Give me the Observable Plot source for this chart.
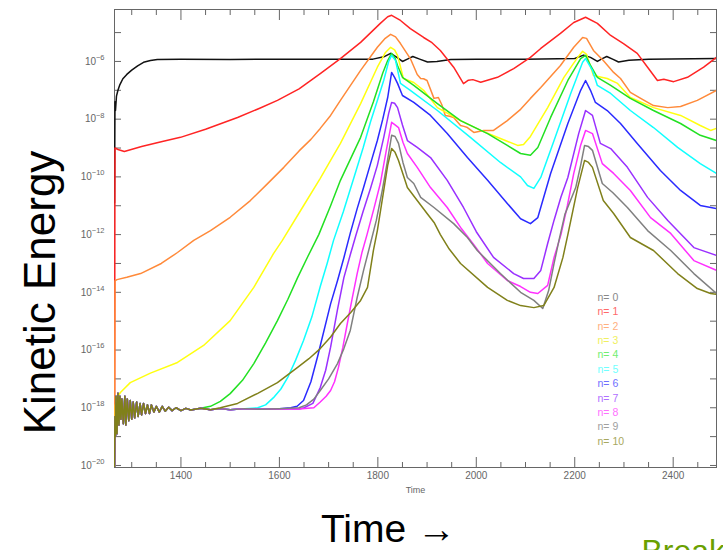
<!DOCTYPE html>
<html><head><meta charset="utf-8">
<script src="https://cdn.jsdelivr.net/npm/d3@7"></script>
<script src="https://cdn.jsdelivr.net/npm/@observablehq/plot@0.6"></script>
<style>body{margin:0;background:#fff;overflow:hidden} #chart svg{display:block}</style>
</head><body><div id="chart"></div>
<script>
// Mode labels and colours
const modeLabels = ["n= 0","n= 1","n= 2","n= 3","n= 4","n= 5","n= 6","n= 7","n= 8","n= 9","n= 10"];
const modeColors = ["#111111","#ff2424","#ff8a3a","#ffff10","#22e022","#10ffff","#2a2aff","#9a30ff","#ff30ff","#808080","#80801a"];
const legendColors = ["#888888","#ff6a6a","#ffb080","#f0f060","#70ee70","#70ffff","#7070ff","#b070ff","#ff70ff","#a0a0a0","#a8a860"];

// [time, log10(kinetic energy)]
const floorNoise = [[1265,-20.07],[1266,-18.3],[1267,-19.0],[1268,-17.6],[1270,-18.9],[1272,-17.5],[1274,-18.6],[1276,-17.6],[1278,-18.4],[1280,-17.7],[1283,-18.55],[1286,-17.6],[1288,-18.6],[1291,-17.7],[1294,-18.45],[1297,-17.75],[1300,-18.4],[1303,-17.8],[1306,-18.35],[1310,-17.8],[1313,-18.3],[1317,-17.85],[1320,-18.25],[1324,-17.85],[1328,-18.2],[1332,-17.9],[1336,-18.2],[1340,-17.9],[1345,-18.15],[1350,-17.95],[1356,-18.15],[1362,-17.95],[1368,-18.12],[1375,-17.98],[1382,-18.1],[1390,-18.0],[1400,-18.1],[1410,-18.02],[1420,-18.08],[1440,-18.02],[1460,-18.07],[1480,-18.03],[1500,-18.07],[1530,-18.03],[1560,-18.05],[1600,-18.03],[1640,-18.04],[1680,-18.02]];

const n0 = [[1265,-10.9],[1266,-7.4],[1267,-7.7],[1269,-7.2],[1272,-7.0],[1276,-6.8],[1282,-6.6],[1290,-6.45],[1300,-6.3],[1312,-6.15],[1324,-6.03],[1338,-5.97],[1352,-5.93],[1400,-5.92],[1500,-5.93],[1600,-5.92],[1700,-5.92],[1790,-5.92],[1812,-5.84],[1826,-5.72],[1838,-5.85],[1850,-6.0],[1860,-5.92],[1871,-5.83],[1885,-5.92],[1901,-6.02],[1920,-6.0],[1948,-5.93],[2000,-5.92],[2100,-5.92],[2200,-5.9],[2218,-5.78],[2232,-5.86],[2246,-6.0],[2256,-5.9],[2265,-5.83],[2278,-5.93],[2289,-6.02],[2310,-5.96],[2350,-5.92],[2488,-5.9]];
const n1 = [[1265,-20.07],[1266,-9.0],[1272,-9.05],[1285,-9.12],[1320,-8.95],[1360,-8.78],[1399,-8.63],[1450,-8.35],[1515,-7.94],[1560,-7.62],[1596,-7.35],[1640,-6.95],[1683,-6.42],[1724,-5.9],[1765,-5.34],[1805,-4.68],[1820,-4.45],[1828,-4.4],[1846,-4.58],[1866,-4.86],[1893,-5.17],[1910,-5.35],[1927,-5.62],[1954,-6.2],[1974,-6.77],[1984,-6.65],[1993,-6.63],[2009,-6.72],[2043,-6.55],[2076,-6.25],[2110,-5.86],[2131,-5.55],[2171,-5.03],[2198,-4.65],[2222,-4.47],[2246,-4.68],[2273,-5.1],[2299,-5.38],[2327,-5.72],[2348,-6.2],[2368,-6.66],[2381,-6.62],[2401,-6.7],[2429,-6.55],[2462,-6.2],[2488,-5.86]];
const n2 = [[1265,-20.07],[1266,-13.6],[1270,-13.56],[1290,-13.48],[1318,-13.35],[1360,-13.0],[1393,-12.62],[1426,-12.2],[1460,-11.86],[1500,-11.4],[1541,-10.82],[1575,-10.25],[1609,-9.67],[1640,-9.1],[1664,-8.7],[1683,-8.32],[1704,-7.87],[1724,-7.35],[1765,-6.31],[1799,-5.51],[1815,-5.2],[1826,-5.06],[1836,-5.15],[1846,-5.38],[1866,-5.9],[1880,-6.45],[1887,-6.59],[1893,-6.6],[1900,-6.66],[1914,-7.28],[1923,-7.25],[1930,-7.5],[1937,-7.87],[1946,-7.9],[1954,-7.94],[1968,-8.22],[1975,-8.25],[1982,-8.29],[1995,-8.46],[2015,-8.39],[2035,-8.39],[2063,-8.05],[2090,-7.66],[2110,-7.28],[2131,-6.9],[2171,-6.14],[2198,-5.51],[2216,-5.17],[2224,-5.2],[2238,-5.62],[2258,-5.97],[2279,-6.38],[2293,-6.59],[2313,-7.07],[2334,-7.28],[2360,-7.53],[2389,-7.6],[2415,-7.56],[2449,-7.35],[2488,-7.0]];
const n3 = [[1265,-20.07],[1267,-17.9],[1272,-17.6],[1277,-17.47],[1297,-17.13],[1338,-16.8],[1393,-16.43],[1446,-15.84],[1500,-14.98],[1548,-13.83],[1588,-12.66],[1606,-12.2],[1649,-11.0],[1683,-10.05],[1704,-9.43],[1724,-8.84],[1765,-7.46],[1799,-6.2],[1815,-5.7],[1826,-5.51],[1834,-5.6],[1840,-5.79],[1852,-6.59],[1873,-6.73],[1893,-7.0],[1921,-7.6],[1968,-8.05],[2009,-8.39],[2049,-8.67],[2084,-8.91],[2096,-8.88],[2110,-8.6],[2145,-7.6],[2178,-6.55],[2206,-5.86],[2216,-5.65],[2224,-5.75],[2238,-6.49],[2266,-6.59],[2287,-6.76],[2313,-7.25],[2360,-7.6],[2415,-7.87],[2455,-8.22],[2476,-8.39],[2488,-8.32]];
const n4 = [[1460,-17.95],[1480,-17.78],[1500,-17.51],[1525,-17.05],[1548,-16.47],[1572,-15.75],[1596,-14.98],[1617,-14.25],[1637,-13.49],[1658,-12.75],[1680,-12.0],[1704,-11.0],[1724,-10.12],[1765,-8.63],[1791,-7.4],[1810,-6.4],[1820,-5.97],[1828,-5.72],[1834,-5.85],[1840,-6.14],[1850,-6.55],[1873,-6.83],[1921,-7.46],[1968,-8.05],[2023,-8.5],[2063,-8.91],[2090,-9.19],[2110,-9.25],[2125,-8.98],[2151,-7.94],[2186,-6.66],[2212,-5.9],[2222,-5.79],[2232,-6.14],[2246,-6.55],[2273,-6.83],[2313,-7.28],[2360,-7.7],[2415,-8.15],[2455,-8.56],[2488,-8.74]];
const n5 = [[1556,-18.0],[1572,-17.9],[1588,-17.65],[1603,-17.35],[1617,-16.95],[1633,-16.35],[1649,-15.67],[1666,-14.85],[1683,-13.8],[1697,-13.0],[1710,-12.2],[1730,-11.2],[1751,-10.05],[1770,-9.0],[1785,-8.1],[1800,-7.3],[1812,-6.65],[1822,-6.0],[1828,-5.79],[1836,-5.97],[1846,-6.76],[1866,-7.0],[1921,-7.7],[1988,-8.63],[2049,-9.5],[2090,-10.0],[2104,-10.3],[2117,-10.4],[2131,-10.02],[2158,-8.74],[2192,-7.1],[2216,-6.03],[2222,-5.9],[2236,-6.31],[2246,-6.83],[2273,-7.11],[2313,-7.7],[2360,-8.29],[2409,-8.98],[2455,-9.54],[2488,-9.88]];
const n6 = [[1623,-18.0],[1636,-17.95],[1649,-17.75],[1664,-17.1],[1678,-16.2],[1683,-15.85],[1704,-14.4],[1718,-13.6],[1731,-12.8],[1744,-11.95],[1758,-11.1],[1771,-10.37],[1785,-9.55],[1799,-8.74],[1810,-8.0],[1820,-7.25],[1828,-6.38],[1834,-6.55],[1840,-6.76],[1850,-7.18],[1873,-7.42],[1907,-7.87],[1941,-8.5],[1982,-9.33],[2023,-10.12],[2063,-10.92],[2090,-11.45],[2110,-11.62],[2125,-11.41],[2151,-9.88],[2186,-8.15],[2212,-7.0],[2222,-6.66],[2232,-7.0],[2242,-7.42],[2266,-7.7],[2293,-8.15],[2327,-8.84],[2374,-9.78],[2415,-10.47],[2455,-10.99],[2488,-11.1]];
const n7 = [[1650,-18.0],[1668,-17.85],[1683,-17.3],[1694,-16.7],[1704,-15.9],[1718,-14.6],[1731,-13.49],[1744,-12.7],[1755,-12.05],[1770,-11.2],[1785,-10.4],[1799,-9.6],[1812,-8.63],[1822,-7.8],[1828,-7.42],[1834,-7.45],[1840,-7.6],[1850,-8.2],[1860,-8.74],[1880,-8.98],[1907,-9.33],[1941,-10.12],[1974,-11.06],[2000,-11.9],[2035,-12.79],[2076,-13.35],[2096,-13.52],[2117,-13.52],[2131,-13.24],[2145,-12.31],[2158,-11.5],[2172,-10.7],[2186,-10.02],[2208,-8.5],[2222,-7.7],[2236,-7.87],[2252,-8.84],[2273,-9.02],[2307,-9.67],[2348,-10.71],[2389,-11.51],[2442,-12.45],[2488,-12.72]];
const n8 = [[1670,-18.0],[1683,-17.8],[1695,-17.6],[1704,-17.4],[1712,-17.1],[1720,-16.6],[1729,-15.9],[1738,-15.08],[1748,-14.2],[1758,-13.35],[1768,-12.6],[1778,-12.0],[1792,-11.1],[1805,-10.23],[1817,-9.1],[1828,-8.11],[1835,-8.2],[1842,-8.29],[1851,-8.8],[1860,-9.19],[1880,-9.67],[1907,-10.37],[1941,-11.06],[1970,-11.8],[1995,-12.35],[2023,-13.0],[2063,-13.59],[2090,-13.8],[2110,-14.0],[2125,-14.04],[2145,-13.76],[2158,-12.79],[2165,-12.4],[2172,-12.0],[2185,-11.0],[2198,-9.88],[2212,-8.9],[2222,-8.39],[2236,-8.5],[2256,-9.54],[2279,-9.88],[2313,-10.47],[2354,-11.41],[2395,-11.96],[2442,-12.9],[2488,-13.24]];
const n9 = [[1640,-18.0],[1655,-17.9],[1670,-17.7],[1683,-17.4],[1700,-17.0],[1718,-16.47],[1731,-15.95],[1744,-15.32],[1758,-14.18],[1771,-13.24],[1785,-12.31],[1797,-11.5],[1809,-10.47],[1819,-9.5],[1828,-8.56],[1835,-8.6],[1842,-8.84],[1851,-9.5],[1860,-10.02],[1873,-10.23],[1887,-10.71],[1914,-11.06],[1954,-11.62],[1982,-12.1],[2002,-12.55],[2049,-13.35],[2090,-14.0],[2117,-14.28],[2135,-14.56],[2147,-13.94],[2158,-13.0],[2168,-12.2],[2180,-11.3],[2202,-10.37],[2212,-9.6],[2220,-8.91],[2228,-8.95],[2236,-9.08],[2256,-10.23],[2277,-10.54],[2307,-11.06],[2348,-11.86],[2395,-12.55],[2442,-13.35],[2488,-14.04]];
const n10 = [[1480,-18.0],[1515,-17.85],[1556,-17.5],[1596,-17.13],[1637,-16.6],[1660,-16.3],[1683,-15.95],[1704,-15.55],[1724,-15.08],[1745,-14.7],[1765,-14.28],[1779,-13.83],[1791,-12.55],[1799,-11.86],[1812,-10.47],[1820,-9.6],[1828,-9.02],[1835,-9.15],[1842,-9.43],[1851,-9.9],[1860,-10.37],[1880,-10.82],[1900,-11.27],[1915,-11.6],[1927,-12.0],[1945,-12.5],[1968,-13.0],[2023,-13.83],[2063,-14.28],[2090,-14.46],[2117,-14.53],[2137,-14.46],[2158,-13.83],[2176,-12.79],[2186,-12.0],[2206,-10.37],[2220,-9.43],[2228,-9.5],[2236,-9.67],[2258,-10.82],[2279,-11.27],[2313,-12.1],[2360,-12.55],[2409,-13.35],[2449,-13.87],[2476,-14.04],[2488,-14.07]];

// Axis ticks
const xMajorTicks = [1400,1600,1800,2000,2200,2400];
const xMinorTicks = [1300,1350,1450,1500,1550,1650,1700,1750,1850,1900,1950,2050,2100,2150,2250,2300,2350,2450];
const yTickExps = [-20,-19,-18,-17,-16,-15,-14,-13,-12,-11,-10,-9,-8,-7,-6,-5];
const yLabelExps1 = [-8,-6];                   // one-digit exponents
const yLabelExps2 = [-20,-18,-16,-14,-12,-10]; // two-digit exponents

// Build table
const startsOnFloor = [false,false,false,false,true,true,true,true,true,true,true];
const allSeries = [n0,n1,n2,n3,n4,n5,n6,n7,n8,n9,n10];
const tables = allSeries.map((pts, n) => {
  const full = startsOnFloor[n] ? floorNoise.filter(p => p[0] < pts[0][0]).concat(pts) : pts;
  return full.map(([t, e]) => ({n, t, ke: Math.pow(10, e)}));
});
const yTicks = yTickExps.map(e => Math.pow(10, e));
const pow10 = e => Math.pow(10, e);

const font = "'Liberation Sans', Arial, sans-serif";
const tickCol = "#666";
const marks = [];
// axes: inward ticks on all four sides
marks.push(Plot.axisY(yTicks, {anchor: "left", tickSize: -7, tickFormat: () => "", stroke: tickCol, label: null}));
marks.push(Plot.axisY(yTicks, {anchor: "right", tickSize: -7, tickFormat: () => "", stroke: tickCol, label: null}));
marks.push(Plot.axisX(xMajorTicks, {anchor: "bottom", tickSize: -10, tickPadding: 14, tickFormat: d => String(d), fontSize: 10, fill: tickCol, stroke: tickCol, label: null}));
marks.push(Plot.axisX(xMinorTicks, {anchor: "bottom", tickSize: -5, tickFormat: () => "", stroke: tickCol, label: null}));
marks.push(Plot.axisX(xMajorTicks, {anchor: "top", tickSize: -10, tickFormat: () => "", stroke: tickCol, label: null}));
marks.push(Plot.axisX(xMinorTicks, {anchor: "top", tickSize: -5, tickFormat: () => "", stroke: tickCol, label: null}));
// y tick labels "10" with raised exponent
marks.push(Plot.text(yLabelExps1, {y: pow10, frameAnchor: "left", dx: -18.5, text: () => "10", textAnchor: "end", lineAnchor: "middle", fontSize: 10, fill: tickCol}));
marks.push(Plot.text(yLabelExps2, {y: pow10, frameAnchor: "left", dx: -22.7, text: () => "10", textAnchor: "end", lineAnchor: "middle", fontSize: 10, fill: tickCol}));
marks.push(Plot.text(yLabelExps1.concat(yLabelExps2), {y: pow10, frameAnchor: "left", dx: -10, dy: -4, text: e => "\u2212" + Math.abs(e), textAnchor: "end", lineAnchor: "middle", fontSize: 7.5, fill: tickCol}));
marks.push(Plot.frame({stroke: tickCol}));

tables.forEach((tbl, n) => {
  marks.push(Plot.line(tbl, {x: "t", y: "ke", stroke: modeColors[n], strokeWidth: 1.5, clip: true}));
});

// legend
modeLabels.forEach((lab, i) => {
  marks.push(Plot.text([lab], {frameAnchor: "top-left", dx: 483, dy: 288 + i * 14.4, text: d => d, fill: legendColors[i], fontSize: 10.5, letterSpacing: "0.6px", textAnchor: "start", lineAnchor: "middle"}));
});

// titles
marks.push(Plot.text(["Time"], {frameAnchor: "bottom", dy: 23, text: d => d, fontSize: 9, fill: tickCol, lineAnchor: "middle"}));
marks.push(Plot.text(["Kinetic Energy"], {frameAnchor: "left", dx: -74, dy: 54, rotate: -90, text: d => d, fontSize: 44, fill: "#000", lineAnchor: "middle", textAnchor: "middle"}));
marks.push(Plot.text(["Time \u2192"], {frameAnchor: "bottom", dx: -27, dy: 74, text: d => d, fontSize: 39, fill: "#000", lineAnchor: "bottom", textAnchor: "middle"}));
marks.push(Plot.text(["Break"], {frameAnchor: "bottom-right", dx: -75, dy: 94, text: d => d, fontSize: 32, fill: "#6aa000", lineAnchor: "bottom", textAnchor: "start"}));

const chart = Plot.plot({
  width: 723, height: 550,
  marginLeft: 114, marginRight: 7, marginTop: 9, marginBottom: 83,
  style: {fontFamily: font, background: "#fff", overflow: "hidden"},
  x: {domain: [1265, 2488]},
  y: {type: "log", domain: [Math.pow(10, -20.07), Math.pow(10, -4.2)]},
  marks
});
document.getElementById("chart").appendChild(chart);
</script>
</body></html>
